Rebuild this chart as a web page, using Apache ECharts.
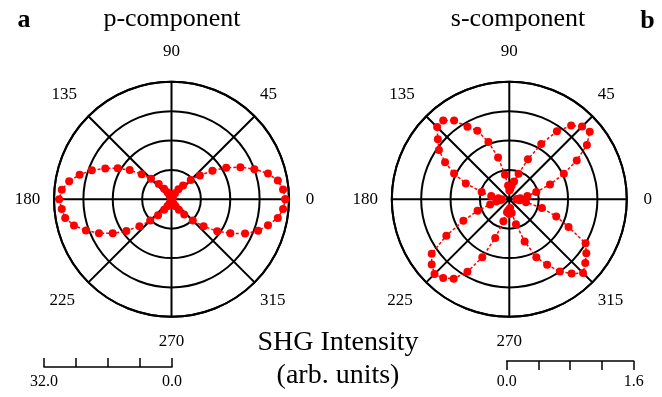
<!DOCTYPE html>
<html>
<head>
<meta charset="utf-8">
<script src="https://cdn.jsdelivr.net/npm/echarts@6/dist/echarts.min.js"></script>
<style>
  html, body { margin: 0; padding: 0; background: #fff; }
  #chart { width: 662px; height: 397px; }
</style>
</head>
<body>
<div id="chart"></div>
<script>
// Polarization angle (degrees) of each measurement
const angles = [
  0, 5, 10, 15, 20, 25, 30, 35, 40, 45, 50, 55, 60, 65, 70, 75, 80, 85,
  90, 95, 100, 105, 110, 115, 120, 125, 130, 135, 140, 145, 150, 155, 160, 165, 170, 175,
  180, 185, 190, 195, 200, 205, 210, 215, 220, 225, 230, 235, 240, 245, 250, 255, 260, 265,
  270, 275, 280, 285, 290, 295, 300, 305, 310, 315, 320, 325, 330, 335, 340, 345, 350, 355
];

// SHG intensity, p-component (arb. units)
const pIntensity = [
  31.0, 30.5, 29.4, 27.2, 24.0, 20.7, 17.2, 13.6, 10.1, 7.4, 4.9, 3.3, 1.9, 1.1, 0.7, 0.4, 0.3, 0.2,
  0.1, 0.2, 0.3, 0.4, 0.8, 1.4, 2.2, 3.5, 5.4, 7.9, 10.6, 13.9, 16.9, 19.9, 23.1, 25.9, 28.3, 30.0,
  30.6, 30.0, 29.4, 27.5, 24.8, 21.8, 18.5, 15.0, 11.4, 8.2, 5.7, 3.5, 2.2, 1.4, 0.8, 0.5, 0.3, 0.2,
  0.1, 0.2, 0.3, 0.4, 0.8, 1.4, 2.2, 3.5, 5.4, 8.2, 11.4, 15.2, 18.5, 22.1, 25.1, 27.2, 29.4, 30.5
];

// SHG intensity, s-component (arb. units)
const sIntensity = [
  0.10, 0.15, 0.25, 0.38, 0.59, 0.82, 1.06, 1.29, 1.43, 1.40, 1.31, 1.13, 0.87, 0.60, 0.37, 0.25, 0.19, 0.14,
  0.12, 0.19, 0.34, 0.59, 0.83, 1.03, 1.14, 1.31, 1.40, 1.39, 1.27, 1.17, 1.01, 0.83, 0.63, 0.39, 0.25, 0.15,
  0.10, 0.12, 0.18, 0.27, 0.46, 0.69, 0.99, 1.29, 1.38, 1.44, 1.40, 1.32, 1.14, 0.87, 0.56, 0.31, 0.18, 0.15,
  0.20, 0.12, 0.19, 0.35, 0.61, 0.87, 1.03, 1.20, 1.32, 1.42, 1.35, 1.28, 1.20, 0.89, 0.68, 0.46, 0.23, 0.14
];

// Angular tick labels and radial scale ranges
const angleTicks = [0, 45, 90, 135, 180, 225, 270, 315];
const pScale = { min: 0, max: 32, step: 8 };
const sScale = { min: 0, max: 1.6, step: 0.4 };

const FONT = '"Liberation Serif", "Times New Roman", serif';
const RED = '#ff0000';
const GRID_W = 2;

// Closed loop: repeat the first sample at 360 degrees
function loop(values) {
  const d = angles.map((a, i) => [values[i], a]);
  d.push([values[0], 360]);
  return d;
}

// Per-label nudges (padding: top, right, bottom, left) around the outer ring
const labelPad = {
  0:   [0, 0, 0, 9],
  45:  [0, 0, 8, 0],
  90:  [0, 0, 14, 0],
  135: [0, 6, 8, 0],
  180: [0, 6, 0, 0],
  225: [4, 8, 0, 0],
  270: [9, 0, 0, 0],
  315: [4, 0, 0, 0]
};
const rich = {};
angleTicks.forEach(t => {
  rich['t' + t] = { fontFamily: FONT, fontSize: 17, color: '#000', padding: labelPad[t] };
});

function angleAxis(idx) {
  return {
    polarIndex: idx,
    type: 'value',
    min: 0, max: 360, interval: 45,
    startAngle: 0, clockwise: false,
    axisLine: { show: true, lineStyle: { color: '#000', width: GRID_W } },
    axisTick: { show: false },
    splitLine: { show: true, lineStyle: { color: '#000', width: GRID_W } },
    axisLabel: {
      margin: 7.7,
      color: '#000',
      fontFamily: FONT,
      fontSize: 17,
      formatter: v => angleTicks.indexOf(v) >= 0 ? '{t' + v + '|' + v + '}' : '',
      rich: rich
    }
  };
}

function radiusAxis(idx, scale) {
  return {
    polarIndex: idx,
    type: 'value',
    min: scale.min, max: scale.max, interval: scale.step,
    axisLine: { show: false },
    axisTick: { show: false },
    axisLabel: { show: false },
    splitLine: { show: true, lineStyle: { color: '#000', width: GRID_W } }
  };
}

function polarSeries(idx, values) {
  return {
    type: 'line',
    coordinateSystem: 'polar',
    polarIndex: idx,
    data: loop(values),
    symbol: 'circle',
    symbolSize: 8,
    showAllSymbol: true,
    itemStyle: { color: RED },
    lineStyle: { color: RED, width: 1.5, type: [3, 2] },
    z: 5
  };
}

function scaleAxis(gridIdx, scale, inverse, inside, margin) {
  return {
    gridIndex: gridIdx,
    type: 'value',
    position: 'bottom',
    min: scale.min, max: scale.max, interval: scale.step,
    inverse: inverse,
    axisLine: { show: true, lineStyle: { color: '#000', width: 1.5 } },
    axisTick: { show: true, inside: inside, length: 9, lineStyle: { color: '#000', width: 1.5 } },
    splitLine: { show: false },
    axisLabel: {
      margin: margin,
      color: '#000',
      fontFamily: FONT,
      fontSize: 16,
      showMinLabel: true,
      showMaxLabel: true,
      formatter: v => (Math.abs(v - scale.min) < 1e-9 || Math.abs(v - scale.max) < 1e-9) ? v.toFixed(1) : ''
    }
  };
}

const chart = echarts.init(document.getElementById('chart'), null, { renderer: 'canvas' });

chart.setOption({
  animation: false,
  backgroundColor: '#fff',
  polar: [
    { center: [171.5, 199.3], radius: 117.5 },
    { center: [509.3, 199.3], radius: 117.5 }
  ],
  angleAxis: [angleAxis(0), angleAxis(1)],
  radiusAxis: [radiusAxis(0, pScale), radiusAxis(1, sScale)],
  grid: [
    { left: 44, width: 128, top: 300, height: 67 },
    { left: 506.7, width: 127, top: 300, height: 61 }
  ],
  xAxis: [
    scaleAxis(0, pScale, true, true, 7),
    scaleAxis(1, sScale, false, false, 13)
  ],
  yAxis: [
    { gridIndex: 0, type: 'value', show: false },
    { gridIndex: 1, type: 'value', show: false }
  ],
  series: [
    polarSeries(0, pIntensity),
    polarSeries(1, sIntensity)
  ],
  graphic: [
    { type: 'text', x: 172, y: 19, style: { text: 'p-component', font: '26px ' + FONT, fill: '#000', align: 'center', verticalAlign: 'middle' } },
    { type: 'text', x: 518, y: 19, style: { text: 's-component', font: '26px ' + FONT, fill: '#000', align: 'center', verticalAlign: 'middle' } },
    { type: 'text', x: 24, y: 20, style: { text: 'a', font: 'bold 26px ' + FONT, fill: '#000', align: 'center', verticalAlign: 'middle' } },
    { type: 'text', x: 647.5, y: 21, style: { text: 'b', font: 'bold 26px ' + FONT, fill: '#000', align: 'center', verticalAlign: 'middle' } },
    { type: 'text', x: 338, y: 342.5, style: { text: 'SHG Intensity', font: '28px ' + FONT, fill: '#000', align: 'center', verticalAlign: 'middle' } },
    { type: 'text', x: 338, y: 376, style: { text: '(arb. units)', font: '28px ' + FONT, fill: '#000', align: 'center', verticalAlign: 'middle' } }
  ]
});
</script>
</body>
</html>
